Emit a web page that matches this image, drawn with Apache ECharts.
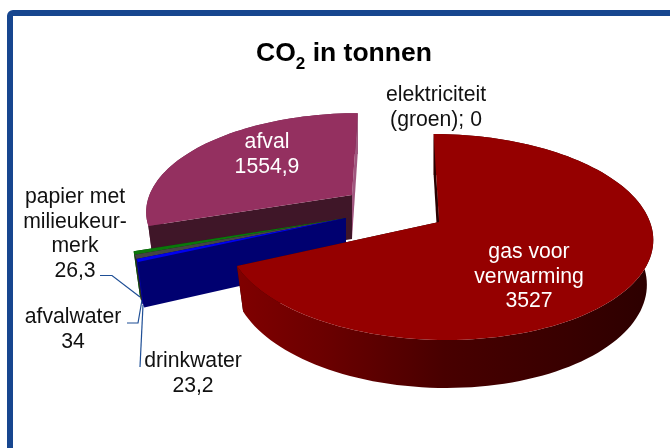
<!DOCTYPE html>
<html><head><meta charset="utf-8">
<style>html,body{margin:0;padding:0;background:#fff}#c{width:670px;height:448px}</style>
<script src="https://cdn.jsdelivr.net/npm/echarts@6/dist/echarts.min.js"></script>
</head><body><div id="c"></div>
<script>
// Data, in pie order (clockwise from the top)
const categories = ["gas voor verwarming","drinkwater","afvalwater","papier met milieukeurmerk","afval","elektriciteit (groen)"];
const values = [3527, 23.2, 34, 26.3, 1554.9, 0];
const labelLines = [["gas voor","verwarming"],["drinkwater"],["afvalwater"],["papier met","milieukeur-","merk"],["afval"],["elektriciteit"]];

// Styling / projection of the tilted pie
const FONT = '"Liberation Sans", Arial, sans-serif';
const START = 0, R = 211, B = 100.8, K = 0.1457, H = 44, Q = 0.97, VX = 397;
const looks = [
  {apex:[439,222], ys:1,   rs:1,   top:'#950000', side:{type:'linear',x:0,y:0,x2:1,y2:0,colorStops:[{offset:0,color:'#800000'},{offset:.2,color:'#6c0000'},{offset:.5,color:'#480000'},{offset:.8,color:'#380000'},{offset:1,color:'#2c0000'}]}, cut:'#2a0000', farCut:'#2a0000', label:{x:529,y:252,fill:'#fff'}},
  {apex:[346,218], ys:1,   rs:1,   top:'#0000f0', side:'#0000a0', cut:'#000070', farCut:'#000070', label:{x:193,y:361,fill:'#111'}, lead:[[140,367],[143,305]]},
  {apex:[346,218], ys:1,   rs:1,   top:'#444444', side:'#2a2a2a', cut:'#2a2a2a', farCut:'#2a2a2a', label:{x:73,y:317,fill:'#111'}, lead:[[127,323],[138,323],[142,300]]},
  {apex:[346,218], ys:1,   rs:1,   top:'#0a780a', side:'#0a6a0a', cut:'#063f06', farCut:'#063f06', label:{x:75,y:197,fill:'#111'}, lead:[[100,275.5],[112,275.5],[140,297]]},
  {apex:[352,195], ys:.93, rs:.96, top:'#943060', side:'#6e2a4e', cut:'#3f1628', farCut:'#a0567e', farOver:true, label:{x:267,y:142,fill:'#fff'}},
  {apex:[437,222], ys:1,   rs:1,   label:{x:436,y:95,fill:'#111'}}
];
const drawOrder = [4,3,2,1,0,5];
const total = values.reduce((a,b)=>a+b,0);
const ranges = []; values.reduce((acc,v,i)=>{const a=acc+v/total*360; ranges[i]=[acc,a]; return a;},START);
const fmt = v => String(v).replace('.',',');

function pt(l,deg,rad,low){
  const t=deg*Math.PI/180,u=Math.sin(t)*rad,v=-Math.cos(t)*rad,s=1/(1-K*v);
  const q=low?Q:1;
  return [VX+(l.apex[0]-VX)*s+R*l.rs*u*s*q, l.apex[1]+B*v*s*q*l.ys+(low?H*s:0)];
}
function arc(l,a,b,low){const n=Math.max(2,Math.ceil(Math.abs(b-a)/2)),o=[];for(let i=0;i<=n;i++)o.push(pt(l,a+(b-a)*i/n,1,low));return o;}
function poly(points,fill){return {type:'polygon',silent:true,shape:{points},style:{fill}};}
function text(l,lines){return {type:'text',silent:true,style:{text:lines.join('\n'),x:l.label.x,y:l.label.y-12,fill:l.label.fill,font:'21.2px '+FONT,align:'center',verticalAlign:'top',lineHeight:24.6}};}

function renderItem(params){
  const i=drawOrder[params.dataIndex],l=looks[i],[a,b]=ranges[i],ch=[];
  const lines=labelLines[i].slice();
  if(i===5) lines.push('(groen); '+fmt(values[i])); else lines.push(fmt(values[i]));
  if(values[i]>0){
    const c0=[pt(l,a,0,false),pt(l,a,0,true)];
    const far=poly([c0[0],pt(l,b,1,false),pt(l,b,1,true),c0[1]],l.farCut);
    const rim=poly(arc(l,a,b,false).concat(arc(l,a,b,true).reverse()),l.side);
    if(l.farOver) ch.push(rim,far); else ch.push(far,rim);
    ch.push(poly([c0[0],pt(l,a,1,false),pt(l,a,1,true),c0[1]],l.cut));
    ch.push(poly([c0[0]].concat(arc(l,a,b,false)),l.top));
  }
  if(i===0){ // thin dark sliver along the start edge of the big slice
    const q0=pt(l,a,.45,false),c=pt(l,a,0,false);
    ch.push(poly([q0,c,[c[0]-2,c[1]]],l.cut));
  }
  if(l.lead) ch.push({type:'polyline',silent:true,shape:{points:l.lead},style:{stroke:'#1f4f96',lineWidth:1.2,fill:'none'}});
  ch.push(text(l,lines));
  return {type:'group',children:ch};
}

const chart = echarts.init(document.getElementById('c'),null,{renderer:'canvas'});
chart.setOption({
  animation:false,
  backgroundColor:'#fff',
  title:{text:'CO{s|2} in tonnen',left:339,top:29,textAlign:'center',
    textStyle:{fontFamily:FONT,fontSize:26.5,fontWeight:'bold',color:'#000',
      rich:{s:{fontFamily:FONT,fontSize:17,fontWeight:'bold',color:'#000',padding:[22,0,0,0]}}}},
  graphic:[{type:'rect',silent:true,z:-1,shape:{x:10,y:13,width:720,height:520,r:3},style:{fill:'#fff',stroke:'#17468f',lineWidth:6}}],
  series:[{type:'custom',coordinateSystem:'none',silent:true,renderItem,
    data:drawOrder.map(i=>({name:categories[i],value:values[i]}))}]
});
</script></body></html>
